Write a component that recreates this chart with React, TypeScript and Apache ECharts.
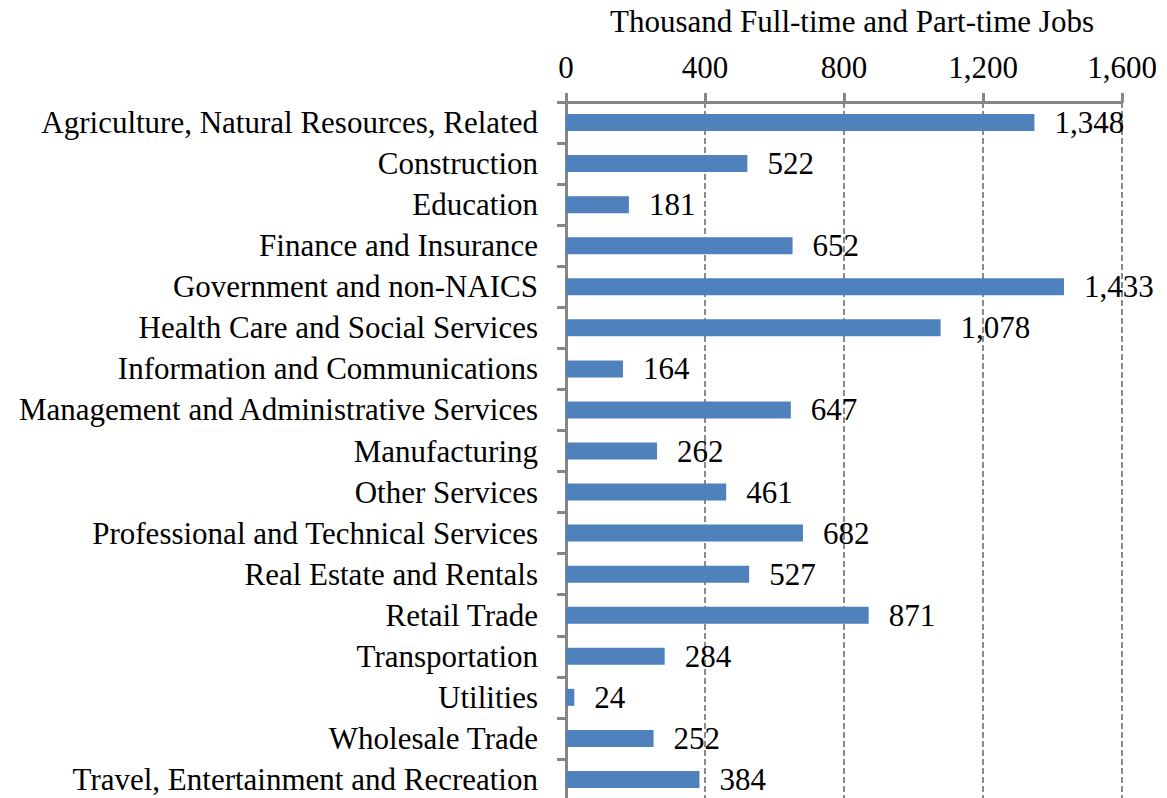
import React, { useEffect, useRef } from "react";
import * as echarts from "echarts";

const categories = [
  "Agriculture, Natural Resources, Related",
  "Construction",
  "Education",
  "Finance and Insurance",
  "Government and non-NAICS",
  "Health Care and Social Services",
  "Information and Communications",
  "Management and Administrative Services",
  "Manufacturing",
  "Other Services",
  "Professional and Technical Services",
  "Real Estate and Rentals",
  "Retail Trade",
  "Transportation",
  "Utilities",
  "Wholesale Trade",
  "Travel, Entertainment and Recreation",
];

const jobs = [1348, 522, 181, 652, 1433, 1078, 164, 647, 262, 461, 682, 527, 871, 284, 24, 252, 384];

const axisTitle = "Thousand Full-time and Part-time Jobs";
const xMin = 0;
const xMax = 1600;
const xInterval = 400;

const fmt = (v: number) => v.toLocaleString("en-US");

export default function App() {
  const ref = useRef<HTMLDivElement>(null);
  useEffect(() => {
    if (!ref.current) return;
    const chart = echarts.init(ref.current, undefined, { renderer: "svg" });
    const font = "'Liberation Serif', 'Times New Roman', serif";
    chart.setOption({
      animation: false,
      backgroundColor: "#ffffff",
      textStyle: { fontFamily: font },
      grid: {
        left: 566,
        top: 102,
        width: 556,
        height: 698,
        containLabel: false,
        outerBoundsMode: "none",
      },
      xAxis: {
        type: "value",
        position: "top",
        min: xMin,
        max: xMax,
        interval: xInterval,
        name: axisTitle,
        nameLocation: "middle",
        nameGap: 65,
        nameTextStyle: { fontFamily: font, fontSize: 31, color: "#000", padding: [0, 0, 0, 16] },
        axisLine: { show: true, lineStyle: { color: "#868686", width: 3 } },
        axisTick: { show: true, length: 9, inside: false, lineStyle: { color: "#868686", width: 3 } },
        axisLabel: {
          fontFamily: font,
          fontSize: 31,
          color: "#000",
          margin: 19,
          formatter: (v: number) => fmt(v),
        },
        splitLine: { show: true, lineStyle: { color: "#8a8a8a", width: 2, type: [6, 3] } },
      },
      yAxis: {
        type: "category",
        data: categories,
        inverse: true,
        axisLine: { show: true, lineStyle: { color: "#868686", width: 3 } },
        axisTick: { show: true, length: 9, lineStyle: { color: "#868686", width: 3 } },
        axisLabel: { fontFamily: font, fontSize: 31, color: "#000", margin: 28 },
        splitLine: { show: false },
      },
      series: [
        {
          type: "bar",
          data: jobs,
          barWidth: 17,
          itemStyle: { color: "#4f81bd" },
          label: {
            show: true,
            position: "right",
            distance: 20,
            fontFamily: font,
            fontSize: 31,
            color: "#000",
            formatter: (p: any) => fmt(p.value),
          },
        },
      ],
    });
    return () => chart.dispose();
  }, []);
  return (
    <div
      ref={ref}
      style={{ position: "fixed", left: 0, top: 0, width: 1167, height: 798, background: "#fff" }}
    />
  );
}
